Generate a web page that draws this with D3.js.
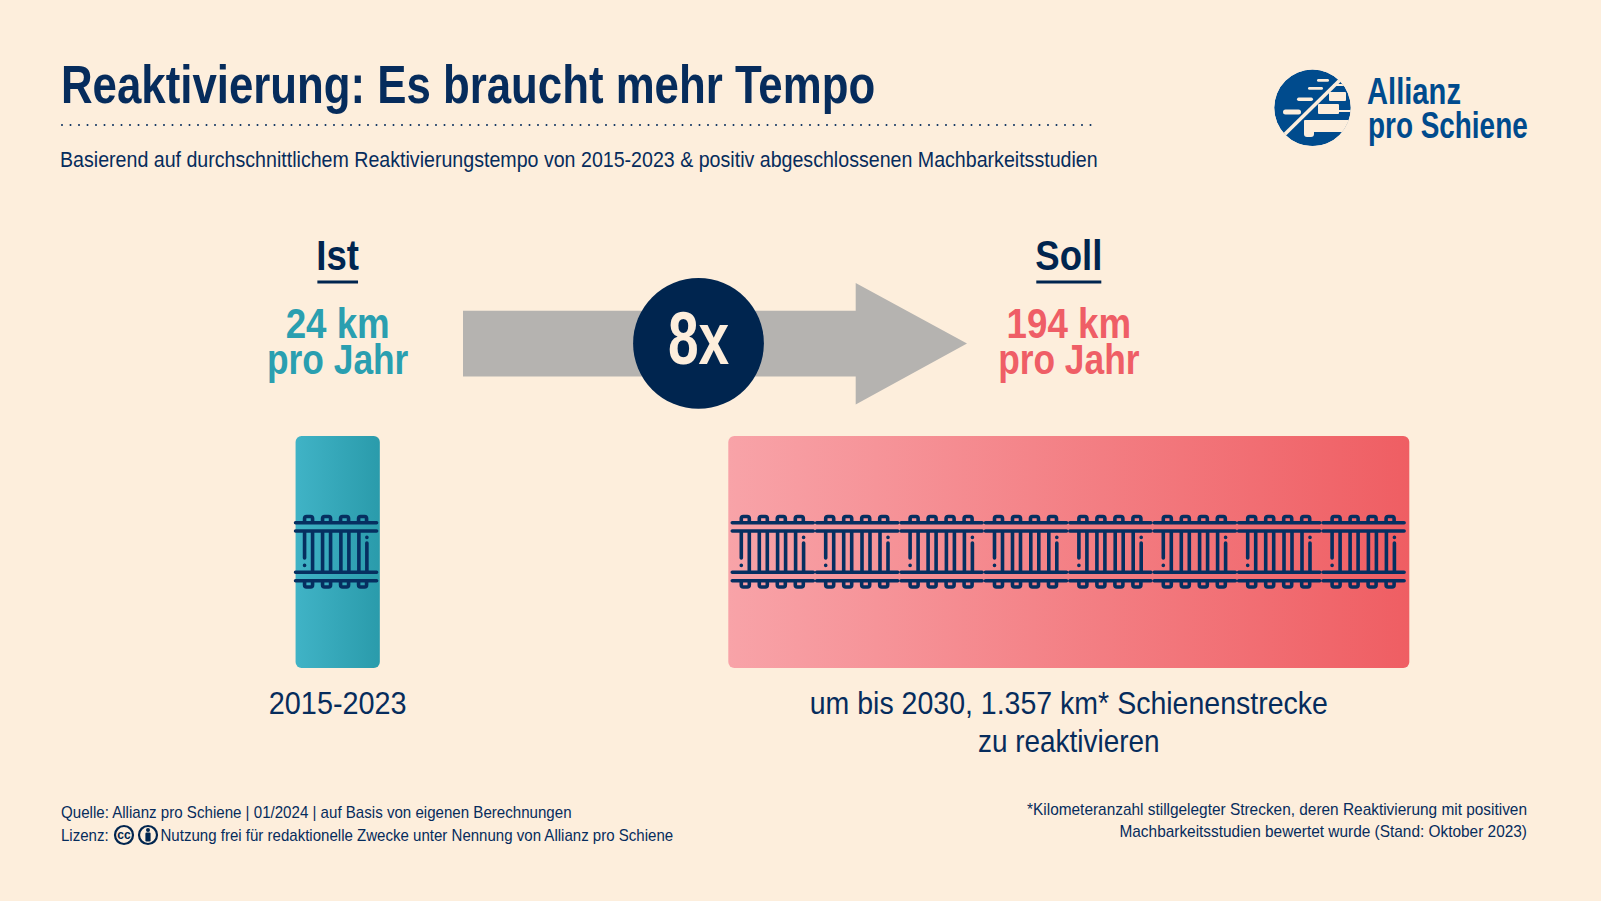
<!DOCTYPE html>
<html>
<head>
<meta charset="utf-8">
<script src="https://cdn.jsdelivr.net/npm/d3@7"></script>
<style>
  html, body { margin: 0; padding: 0; background: #fdeedc; overflow: hidden; }
  svg { display: block; }
  text { font-family: "Liberation Sans", sans-serif; }
</style>
</head>
<body>
<svg id="chart"></svg>
<script>
// values
const groups = ["Ist", "Soll"];
const kmPerYear = [24, 194];
const kmLabels = ["24 km", "194 km"];
const trackCounts = [1, 8];
const captions = [["2015-2023"], ["um bis 2030, 1.357 km* Schienenstrecke", "zu reaktivieren"]];
const factorLabel = "8x";

const titleText = "Reaktivierung: Es braucht mehr Tempo";
const subtitleText = "Basierend auf durchschnittlichem Reaktivierungstempo von 2015-2023 & positiv abgeschlossenen Machbarkeitsstudien";
const sourceText = "Quelle: Allianz pro Schiene | 01/2024 | auf Basis von eigenen Berechnungen";
const licenceLabel = "Lizenz:";
const licenceText = "Nutzung frei für redaktionelle Zwecke unter Nennung von Allianz pro Schiene";
const noteLines = [
  "*Kilometeranzahl stillgelegter Strecken, deren Reaktivierung mit positiven",
  "Machbarkeitsstudien bewertet wurde (Stand: Oktober 2023)"
];

const width = 1601, height = 901;
const navy = "#00254f", textBlue = "#062c5c", teal = "#2a9fb0", coral = "#ef5e66", logoBlue = "#004b8d";

const svg = d3.select("#chart").attr("width", width).attr("height", height);
svg.append("rect").attr("width", width).attr("height", height).attr("fill", "#fdeedc");

// bar width is proportional to km per year
const widthScale = d3.scaleLinear().domain([0, 194]).range([0, 681]);
const centerX = d3.scaleOrdinal().domain(groups).range([337.7, 1068.8]);
const barTop = 436, barHeight = 232;

const defs = svg.append("defs");
function addGradient(id, from, to) {
  const g = defs.append("linearGradient").attr("id", id);
  g.append("stop").attr("offset", 0).attr("stop-color", from);
  g.append("stop").attr("offset", 1).attr("stop-color", to);
}
addGradient("grad-Ist", "#40b3c6", "#2a9bab");
addGradient("grad-Soll", "#f8a3a8", "#ef5e63");

// no narrow font here, so squeeze the regular one to the reference widths
function addText(sel, str, x, y, size, squeeze, opts) {
  opts = opts || {};
  const t = sel.append("text")
    .attr("x", x)
    .attr("y", y)
    .attr("font-size", size)
    .attr("font-weight", opts.weight || "normal")
    .attr("text-anchor", opts.anchor || "start")
    .attr("fill", opts.fill || textBlue)
    .text(str);
  const len = t.node().getComputedTextLength();
  t.attr("textLength", len * squeeze).attr("lengthAdjust", "spacingAndGlyphs");
  return t;
}

// header
addText(svg, titleText, 61, 103, 53, 0.826, { weight: "bold" });
svg.append("line")
  .attr("x1", 62).attr("x2", 1094).attr("y1", 125).attr("y2", 125)
  .attr("stroke", textBlue).attr("stroke-width", 2)
  .attr("stroke-linecap", "round").attr("stroke-dasharray", "0 8.5");
addText(svg, subtitleText, 60, 167, 21.5, 0.912);

// one track piece, local coordinates of the glyph
function trackPath() {
  let d = "";
  [7.7, 16, 57.3, 65.7].forEach((y) => { d += `M1 ${y}H82`; });
  [10, 28, 46, 64].forEach((x) => {
    d += `M${x} 7.7V3.5Q${x} 1.5 ${x + 2} 1.5H${x + 6}Q${x + 8} 1.5 ${x + 8} 3.5V7.7`;
    d += `M${x} 65.7V70Q${x} 72 ${x + 2} 72H${x + 6}Q${x + 8} 72 ${x + 8} 70V65.7`;
  });
  [18, 28, 36, 46.3, 54.3, 64.3].forEach((x) => { d += `M${x} 16V57.3`; });
  d += "M10 16V43M10 50.3V50.4M72.3 22.3V22.4M72.3 28V57.3";
  return d;
}

// groups: heading, value, bar, tracks, caption
groups.forEach((name, i) => {
  const cx = centerX(name);
  const color = i === 0 ? teal : coral;
  const g = svg.append("g").attr("class", name);

  const head = addText(g, name, cx, 270, 43, 0.85, { weight: "bold", anchor: "middle", fill: navy });
  const headWidth = +head.attr("textLength");
  g.append("line")
    .attr("x1", cx - headWidth / 2 + 1).attr("x2", cx + headWidth / 2 - 1)
    .attr("y1", 282).attr("y2", 282)
    .attr("stroke", navy).attr("stroke-width", 3);

  addText(g, kmLabels[i], cx, 338, 42, 0.874, { weight: "bold", anchor: "middle", fill: color });
  addText(g, "pro Jahr", cx, 374, 42, 0.841, { weight: "bold", anchor: "middle", fill: color });

  const w = widthScale(kmPerYear[i]);
  g.append("rect")
    .attr("x", cx - w / 2).attr("y", barTop)
    .attr("width", w).attr("height", barHeight)
    .attr("rx", 6)
    .attr("fill", `url(#grad-${name})`);

  const step = 84.4;
  const start = cx - w / 2 + (i === 0 ? -1 : 3);
  g.selectAll("path.track")
    .data(d3.range(trackCounts[i]))
    .join("path")
    .attr("class", "track")
    .attr("transform", (d) => `translate(${start + d * step},515)`)
    .attr("d", trackPath())
    .attr("fill", "none")
    .attr("stroke", "#062f60")
    .attr("stroke-width", 3.6)
    .attr("stroke-linecap", "round");

  captions[i].forEach((line, j) => {
    addText(g, line, cx, 713.5 + j * 38, 32, i === 0 ? 0.9 : (j === 0 ? 0.891 : 0.872), { anchor: "middle" });
  });
});

// arrow between the two groups
const arrowLine = d3.line();
svg.append("path")
  .attr("d", arrowLine([[463, 310.8], [855.7, 310.8], [855.7, 283], [967, 343.6], [855.7, 404.5], [855.7, 376.6], [463, 376.6]]) + "Z")
  .attr("fill", "#b5b3b0");
svg.append("circle").attr("cx", 698.5).attr("cy", 343.4).attr("r", 65.4).attr("fill", navy);
addText(svg, factorLabel, 698.5, 364, 75, 0.734, { weight: "bold", anchor: "middle", fill: "#fdeedc" });

// logo
const logo = svg.append("g").attr("class", "logo");
const bg = "#fdeedc";
defs.append("clipPath").attr("id", "logoClip")
  .append("circle").attr("cx", 1312.5).attr("cy", 107.8).attr("r", 38.3);
const logoInner = logo.append("g").attr("clip-path", "url(#logoClip)");
logoInner.append("circle").attr("cx", 1312.5).attr("cy", 107.8).attr("r", 38.3).attr("fill", logoBlue);
// dashes left of the stripe
[[1317, 79, 12, 2.8], [1308, 87, 15, 2.8], [1297, 97.5, 16, 3.4], [1283, 109.5, 18, 5]].forEach((r) => {
  logoInner.append("rect").attr("x", r[0]).attr("y", r[1]).attr("width", r[2]).attr("height", r[3])
    .attr("rx", r[3] / 2).attr("fill", bg);
});
// clouds right of the stripe
[[1333, 84, 18, 2], [1348, 84, 2, 10], [1329, 92, 17, 9], [1318, 104, 21, 10], [1338, 110, 20, 2], [1304, 120, 50, 12]].forEach((r) => {
  logoInner.append("rect").attr("x", r[0]).attr("y", r[1]).attr("width", r[2]).attr("height", r[3])
    .attr("rx", 1).attr("fill", bg);
});
logoInner.append("rect").attr("x", 1304).attr("y", 127).attr("width", 10).attr("height", 10).attr("rx", 3).attr("fill", bg);
logoInner.append("line")
  .attr("x1", 1283).attr("y1", 136).attr("x2", 1340).attr("y2", 80)
  .attr("stroke", bg).attr("stroke-width", 3.6);
addText(logo, "Allianz", 1367, 104, 36, 0.81, { weight: "bold", fill: logoBlue });
addText(logo, "pro Schiene", 1368, 138, 36, 0.775, { weight: "bold", fill: logoBlue });

// footer
addText(svg, sourceText, 61, 818, 17, 0.888);
addText(svg, licenceLabel, 61, 841, 17, 0.885);
const ccIcon = svg.append("g");
ccIcon.append("circle").attr("cx", 124).attr("cy", 835).attr("r", 9).attr("fill", "none")
  .attr("stroke", navy).attr("stroke-width", 2.2);
addText(ccIcon, "cc", 124, 839, 12, 1, { weight: "bold", anchor: "middle", fill: navy });
ccIcon.append("circle").attr("cx", 148).attr("cy", 835).attr("r", 9).attr("fill", "none")
  .attr("stroke", navy).attr("stroke-width", 2.2);
ccIcon.append("circle").attr("cx", 148).attr("cy", 830).attr("r", 2).attr("fill", navy);
ccIcon.append("rect").attr("x", 145.4).attr("y", 832.5).attr("width", 5.2).attr("height", 9)
  .attr("rx", 1.2).attr("fill", navy);
addText(svg, licenceText, 160.5, 841, 17, 0.885);
noteLines.forEach((line, i) => {
  addText(svg, line, 1527, 815 + i * 22, 17, 0.906, { anchor: "end" });
});
</script>
</body>
</html>
